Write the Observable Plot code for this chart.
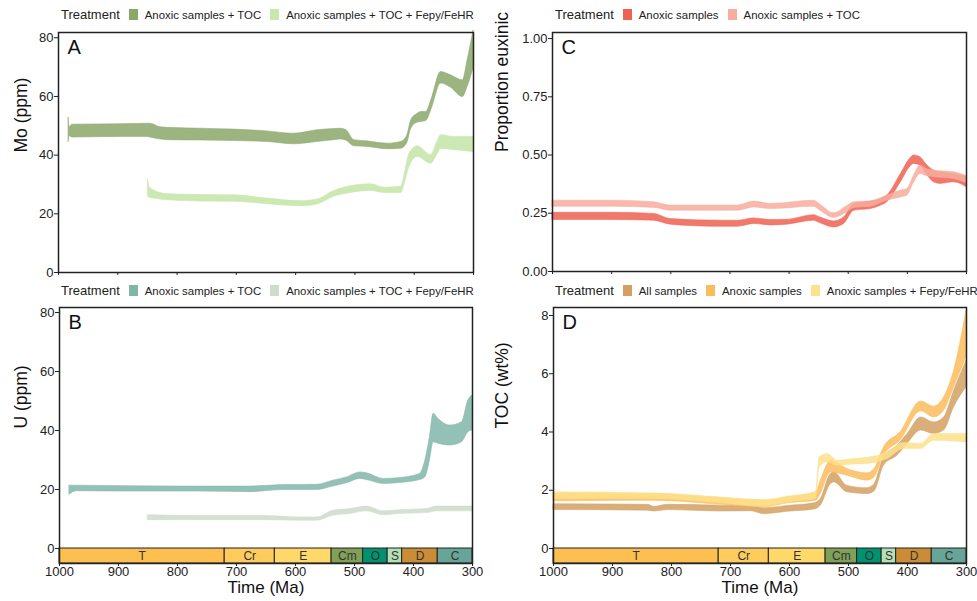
<!DOCTYPE html>
<html>
<head>
<meta charset="utf-8">
<script src="https://cdn.jsdelivr.net/npm/d3@7"></script>
<script src="https://cdn.jsdelivr.net/npm/@observablehq/plot@0.6"></script>
<style>
  html, body { margin: 0; padding: 0; background: #fff; }
  body { width: 977px; height: 601px; position: relative; overflow: hidden; font-family: "Liberation Sans", Arial, sans-serif; }
  .panel { position: absolute; }
  .legend { position: absolute; display: flex; align-items: center; color: #222; white-space: nowrap; }
  .legend .title { font-size: 13px; margin-right: 9px; }
  .legend .sw { width: 9px; height: 11px; margin-right: 7px; }
  .legend .lab { font-size: 11.4px; margin-right: 9px; }
</style>
</head>
<body>
<div id="legA" class="legend" style="left:61px; top:7px;"></div>
<div id="legC" class="legend" style="left:555px; top:7px;"></div>
<div id="legB" class="legend" style="left:61px; top:283px;"></div>
<div id="legD" class="legend" style="left:555px; top:283px;"></div>
<div id="pA" class="panel" style="left:0px; top:26px;"></div>
<div id="pC" class="panel" style="left:487px; top:26px;"></div>
<div id="pB" class="panel" style="left:0px; top:300px;"></div>
<div id="pD" class="panel" style="left:487px; top:300px;"></div>
<script>
// ---------- Panel A: Mo (ppm) ----------
const moTocTime = [983, 981, 977, 900, 850, 845, 830, 817, 760, 704, 648, 603, 563, 535, 524, 515, 501, 479, 445, 422, 412, 405, 395, 388, 380, 370, 355, 338, 318, 310, 300];
const moTocLow  = [44.5, 46.5, 46.0, 46.2, 46.2, 46.0, 45.4, 45.1, 45.0, 44.8, 44.5, 43.7, 44.5, 45.1, 45.3, 45.0, 43.0, 42.8, 42.0, 42.2, 44.0, 49.0, 51.0, 51.3, 51.6, 56.0, 64.4, 63.0, 59.8, 63.2, 69.5];
const moTocHigh = [52.7, 49.5, 50.4, 50.5, 50.7, 50.7, 49.6, 49.3, 49.0, 48.7, 48.1, 47.3, 48.5, 48.9, 49.0, 48.6, 45.1, 44.7, 43.9, 44.5, 46.5, 51.9, 54.0, 54.7, 54.7, 59.5, 68.3, 67.2, 65.5, 72.3, 82.5];
const moFeTime = [849, 846, 839, 817, 760, 704, 648, 591, 563, 535, 507, 473, 450, 422, 415, 408, 394, 372, 360, 355, 332, 300];
const moFeLow  = [25.8, 25.5, 25.2, 24.6, 24.2, 24.1, 23.3, 22.6, 23.2, 25.8, 27.1, 27.8, 27.1, 27.1, 31.0, 36.0, 39.4, 37.1, 40.5, 42.2, 41.7, 41.1];
const moFeHigh = [31.4, 29.0, 28.0, 26.7, 26.4, 26.3, 25.2, 24.3, 24.9, 27.8, 29.4, 30.1, 28.9, 29.2, 34.5, 40.5, 43.0, 40.0, 45.0, 46.8, 46.2, 46.2];

// ---------- Panel B: U (ppm) ----------
const uTocTime = [983, 971, 875, 762, 677, 620, 564, 536, 513, 490, 479, 451, 423, 389, 380, 372, 366, 358, 338, 318, 307, 300];
const uTocLow  = [18.2, 19.4, 19.3, 19.3, 19.1, 19.8, 19.8, 21.0, 22.1, 23.6, 23.2, 21.9, 22.2, 23.2, 24.1, 30.0, 36.0, 35.5, 34.9, 36.0, 39.4, 40.0];
const uTocHigh = [21.3, 21.3, 21.1, 21.0, 21.0, 21.5, 21.6, 23.0, 24.1, 25.8, 25.5, 23.6, 23.9, 25.3, 29.8, 38.0, 45.7, 44.0, 41.7, 42.8, 50.2, 51.9];
const uFeTime = [850, 762, 649, 592, 564, 536, 507, 479, 451, 423, 377, 360, 300];
const uFeLow  = [9.6, 9.6, 9.6, 9.4, 9.4, 11.1, 11.7, 12.6, 11.3, 11.7, 12.0, 12.6, 12.6];
const uFeHigh = [11.3, 11.0, 11.0, 10.5, 10.5, 12.8, 13.4, 14.2, 12.6, 13.0, 13.4, 14.2, 14.2];

// ---------- Panel C: Proportion euxinic ----------
const pAnoxTime = [1000, 900, 828, 800, 716, 687, 659, 631, 603, 558, 547, 524, 507, 490, 462, 445, 434, 411, 395, 389, 378, 368, 355, 344, 321, 300];
const pAnoxLow  = [0.221, 0.221, 0.218, 0.201, 0.192, 0.192, 0.204, 0.198, 0.201, 0.218, 0.207, 0.189, 0.204, 0.261, 0.268, 0.282, 0.297, 0.383, 0.450, 0.462, 0.455, 0.420, 0.383, 0.376, 0.383, 0.362];
const pAnoxHigh = [0.252, 0.252, 0.247, 0.225, 0.218, 0.218, 0.228, 0.221, 0.222, 0.242, 0.232, 0.215, 0.232, 0.290, 0.300, 0.310, 0.326, 0.419, 0.485, 0.498, 0.491, 0.460, 0.433, 0.426, 0.419, 0.405];
const pTocTime = [1000, 900, 828, 800, 687, 659, 631, 558, 547, 524, 502, 490, 462, 434, 411, 400, 389, 378, 368, 355, 321, 300];
const pTocLow  = [0.278, 0.278, 0.273, 0.261, 0.261, 0.275, 0.268, 0.278, 0.261, 0.230, 0.254, 0.273, 0.278, 0.304, 0.318, 0.326, 0.380, 0.419, 0.410, 0.405, 0.397, 0.380];
const pTocHigh = [0.304, 0.304, 0.297, 0.283, 0.283, 0.300, 0.290, 0.304, 0.287, 0.250, 0.280, 0.297, 0.301, 0.326, 0.347, 0.354, 0.410, 0.455, 0.440, 0.433, 0.426, 0.410];

// ---------- Panel D: TOC (wt%) ----------
const tAllTime = [1000, 840, 829, 806, 716, 665, 643, 603, 558, 547, 530, 524, 502, 468, 456, 440, 417, 400, 377, 355, 338, 321, 300];
const tAllLow  = [1.32, 1.30, 1.27, 1.32, 1.27, 1.28, 1.18, 1.26, 1.34, 1.47, 2.21, 2.27, 1.93, 1.87, 1.96, 2.84, 3.19, 3.59, 4.05, 3.93, 4.05, 4.85, 5.54];
const tAllHigh = [1.52, 1.50, 1.43, 1.50, 1.47, 1.46, 1.38, 1.46, 1.55, 1.70, 2.56, 2.61, 2.15, 2.07, 2.21, 3.13, 3.53, 3.93, 4.50, 4.33, 4.50, 5.42, 6.45];
const tAnoxTime = [1000, 829, 716, 643, 603, 555, 547, 530, 502, 468, 456, 440, 412, 377, 355, 338, 321, 300];
const tAnoxLow  = [1.62, 1.64, 1.50, 1.41, 1.55, 1.64, 1.87, 2.61, 2.50, 2.33, 2.44, 3.19, 3.70, 4.71, 4.50, 4.73, 5.54, 6.57];
const tAnoxHigh = [1.89, 1.87, 1.73, 1.64, 1.75, 1.93, 2.33, 3.01, 2.73, 2.58, 2.73, 3.47, 3.99, 5.05, 4.87, 5.19, 6.11, 8.17];
const tFeTime = [1000, 829, 716, 643, 603, 555, 549, 535, 518, 490, 462, 434, 406, 377, 355, 300];
const tFeLow  = [1.70, 1.70, 1.55, 1.43, 1.58, 1.70, 2.79, 2.96, 2.84, 2.88, 2.92, 3.07, 3.42, 3.42, 3.70, 3.64];
const tFeHigh = [1.93, 1.89, 1.75, 1.66, 1.78, 1.93, 3.13, 3.24, 3.01, 3.07, 3.13, 3.30, 3.62, 3.59, 3.93, 3.93];

// ---------- Geologic periods ----------
const periodNames = ["T", "Cr", "E", "Cm", "O", "S", "D", "C"];
const periodStart = [1000, 720, 635, 538.8, 485.4, 443.8, 419.2, 358.9];
const periodEnd   = [720, 635, 538.8, 485.4, 443.8, 419.2, 358.9, 300];
const periodColors = ["#fdbf4f", "#fecc5c", "#fed96a", "#7fa056", "#009270", "#b3e1b6", "#cb8c37", "#67a599"];

const xTicks = [1000, 900, 800, 700, 600, 500, 400, 300];

const legends = {
  legA: [["Anoxic samples + TOC", "#8ba86a"], ["Anoxic samples + TOC + Fepy/FeHR", "#c8e8ad"]],
  legB: [["Anoxic samples + TOC", "#80b6a8"], ["Anoxic samples + TOC + Fepy/FeHR", "#cfdccb"]],
  legC: [["Anoxic samples", "#ee6251"], ["Anoxic samples + TOC", "#f7ad9f"]],
  legD: [["All samples", "#d4a062"], ["Anoxic samples", "#fbbc5c"], ["Anoxic samples + Fepy/FeHR", "#fde28c"]]
};
for (const [id, items] of Object.entries(legends)) {
  const el = document.getElementById(id);
  let h = '<span class="title">Treatment</span>';
  for (const [lab, col] of items) h += `<span class="sw" style="background:${col}"></span><span class="lab">${lab}</span>`;
  el.innerHTML = h;
}

function rows(time, low, high) { return time.map((t, i) => ({t, lo: low[i], hi: high[i]})); }

function panel(id, cfg) {
  const periods = periodNames.map((n, i) => ({n, x1: periodStart[i], x2: periodEnd[i], c: periodColors[i]}));
  const marks = [];
  for (const s of cfg.series) {
    marks.push(Plot.areaY(rows(s.time, s.low, s.high), {x: "t", y1: "lo", y2: "hi", curve: "monotone-x", fill: s.color, fillOpacity: 0.85, stroke: s.color, strokeWidth: 0.6, strokeOpacity: 0.9}));
  }
  if (cfg.bar) {
    const ymin = cfg.ydomain[0];
    marks.push(Plot.rect(periods, {x1: "x1", x2: "x2", y1: ymin, y2: 0, fill: "c", stroke: "#222", strokeWidth: 1}));
    marks.push(Plot.text(periods, {x: d => (d.x1 + d.x2) / 2, y: ymin / 2, text: "n", fontSize: 12, fill: "#333"}));
  }
  marks.push(Plot.frame({stroke: "#222", strokeWidth: 1.5}));
  marks.push(Plot.axisY({ticks: cfg.yticks, tickSize: 4, tickPadding: 1, tickFormat: cfg.yfmt || (d => String(d)), label: null, fontSize: 13}));
  marks.push(Plot.axisX({ticks: xTicks, tickSize: 3, tickPadding: 0, tickFormat: cfg.bar ? (d => String(d)) : (() => ""), label: null, fontSize: 13}));
  marks.push(Plot.text([cfg.letter], {frameAnchor: "top-left", dx: 9, dy: 7, fontSize: 20, lineAnchor: "top", textAnchor: "start", fill: "#111"}));
  marks.push(Plot.text([cfg.ylabel], {frameAnchor: "left", dx: cfg.ylabelDx, dy: cfg.ylabelDy || 0, rotate: -90, fontSize: 17.5, fill: "#111"}));
  if (cfg.bar) marks.push(Plot.text(["Time (Ma)"], {frameAnchor: "bottom", dy: 29.5, fontSize: 17, fill: "#111"}));
  const chart = Plot.plot({
    width: cfg.width, height: cfg.height,
    marginLeft: cfg.ml, marginRight: cfg.mr, marginTop: cfg.mt, marginBottom: cfg.mb,
    style: {fontFamily: "'Liberation Sans', Arial, sans-serif", fontSize: "13px", color: "#222", background: "transparent", overflow: "visible"},
    x: {domain: [1000, 300]},
    y: {domain: cfg.ydomain},
    marks
  });
  document.getElementById(id).appendChild(chart);
}

panel("pA", {
  width: 490, height: 262, ml: 58, mr: 17, mt: 6, mb: 16,
  ydomain: [0, 81.8], yticks: [0, 20, 40, 60, 80], letter: "A", ylabel: "Mo (ppm)", ylabelDx: -37,
  series: [
    {time: moTocTime, low: moTocLow, high: moTocHigh, color: "#8ba86a"},
    {time: moFeTime, low: moFeLow, high: moFeHigh, color: "#c3e5a6"}
  ]
});
panel("pC", {
  width: 490, height: 262, ml: 65, mr: 11, mt: 6, mb: 17,
  ydomain: [0, 1.026], yticks: [0, 0.25, 0.5, 0.75, 1], yfmt: d3.format(".2f"), letter: "C", ylabel: "Proportion euxinic", ylabelDx: -50,
  series: [
    {time: pAnoxTime, low: pAnoxLow, high: pAnoxHigh, color: "#ee6251"},
    {time: pTocTime, low: pTocLow, high: pTocHigh, color: "#f7ab9c"}
  ]
});
panel("pB", {
  width: 490, height: 301, ml: 59, mr: 18, mt: 7, mb: 38, bar: true,
  ydomain: [-5.08, 81.7], yticks: [0, 20, 40, 60, 80], letter: "B", ylabel: "U (ppm)", ylabelDx: -38, ylabelDy: -7,
  series: [
    {time: uTocTime, low: uTocLow, high: uTocHigh, color: "#80b6a8"},
    {time: uFeTime, low: uFeLow, high: uFeHigh, color: "#cddbc9"}
  ]
});
panel("pD", {
  width: 490, height: 301, ml: 66, mr: 11, mt: 7, mb: 38, bar: true,
  ydomain: [-0.515, 8.275], yticks: [0, 2, 4, 6, 8], letter: "D", ylabel: "TOC (wt%)", ylabelDx: -51, ylabelDy: -7,
  series: [
    {time: tAllTime, low: tAllLow, high: tAllHigh, color: "#d4a062"},
    {time: tAnoxTime, low: tAnoxLow, high: tAnoxHigh, color: "#fbbc5c"},
    {time: tFeTime, low: tFeLow, high: tFeHigh, color: "#fde08a"}
  ]
});
</script>
</body>
</html>
